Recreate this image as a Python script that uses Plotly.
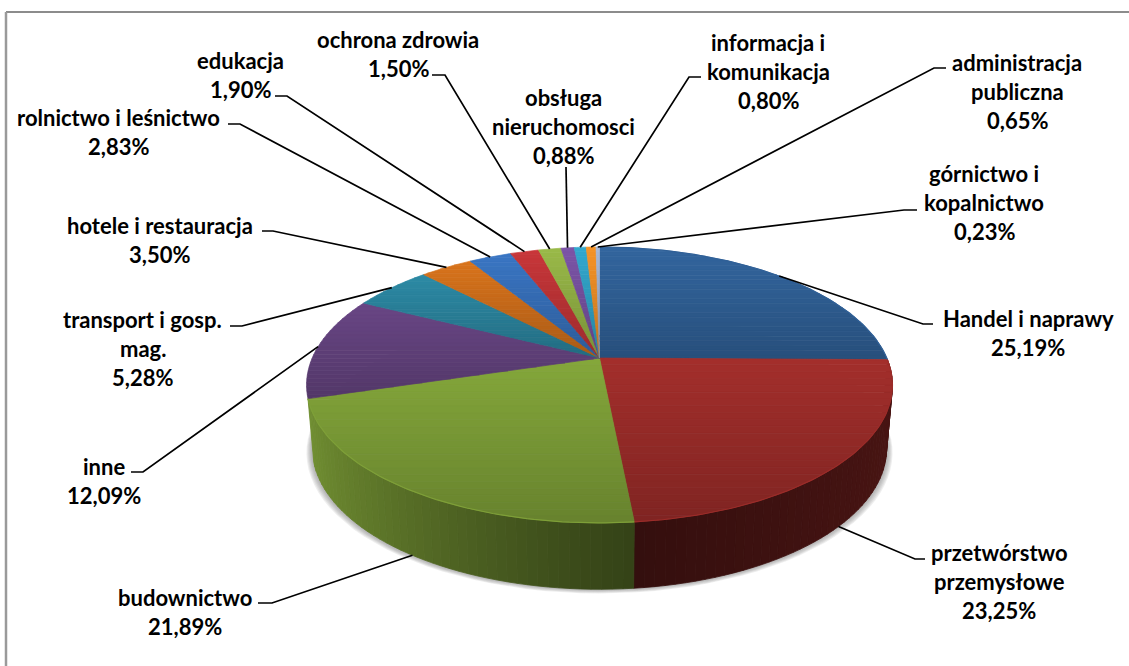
import math
import plotly.graph_objects as go

# 3D pie is not available in plotly, so slices are polygons on pixel-sized axes
values = [25.19, 23.25, 21.89, 12.09, 5.28, 3.50, 2.83, 1.90, 1.50, 0.88, 0.80, 0.65, 0.23]
names = [
    ["Handel i naprawy"],
    ["przetwórstwo", "przemysłowe"],
    ["budownictwo"],
    ["inne"],
    ["transport i gosp.", "mag."],
    ["hotele i restauracja"],
    ["rolnictwo i leśnictwo"],
    ["edukacja"],
    ["ochrona zdrowia"],
    ["obsługa", "nieruchomosci"],
    ["informacja i", "komunikacja"],
    ["administracja", "publiczna"],
    ["górnictwo i", "kopalnictwo"],
]
colors = ["#33669f", "#a42f2c", "#85a83b", "#6a4786", "#2d8ba6", "#d9741c", "#3a76c4",
          "#c9373a", "#9aba49", "#7d55a8", "#33a9cf", "#f79428", "#a8b9d8"]

# label centre x, first line centre y
label_pos = [(1028, 318), (999, 552), (184.5, 597), (104, 466), (142.5, 319), (159.5, 225), (118, 117),
             (240, 60), (398, 39), (563, 97), (768, 42), (1017, 62), (984, 173)]
# leader: elbow point, end of the short horizontal bit
elbows = [((923, 324), (933, 324)), ((915, 559), (925, 559)), ((272, 603), (258, 603)),
          ((143, 472), (131, 472)), ((242, 326), (230, 326)), ((273, 231), (262, 231)),
          ((240, 124), (228, 124)), ((287, 96), (275, 96)), ((445, 75), (432, 75)),
          ((566, 167), (566, 167)), ((689, 77), (701, 77)), ((934, 68), (946, 68)),
          ((904, 210), (917, 210))]

CX, CY = 599.5, 358
R, S, K = 287.3, 132.7, 0.1955
DROP = 63
LINE_H = 29


def top_pt(theta):
    u, v = math.sin(theta), math.cos(theta)
    w = 1 + K * v
    return CX + R * u / w, CY - S * v / w


def bottom_pt(theta):
    u, v = math.sin(theta), math.cos(theta)
    w = 1 + K * v
    return CX + 0.98 * R * u / w, CY - 1.02 * S * v / w + DROP


def shade(hex_color, f):
    r, g, b = [int(hex_color[i:i + 2], 16) for i in (1, 3, 5)]
    return "rgb(%d,%d,%d)" % (min(255, r * f), min(255, g * f), min(255, b * f))


def clip(poly, y, keep_below):
    # cut polygon with a horizontal line
    out = []
    for i in range(len(poly)):
        a, b = poly[i], poly[(i + 1) % len(poly)]
        ina = a[1] >= y if keep_below else a[1] <= y
        inb = b[1] >= y if keep_below else b[1] <= y
        if ina:
            out.append(a)
        if ina != inb:
            t = (y - a[1]) / (b[1] - a[1])
            out.append((a[0] + t * (b[0] - a[0]), y))
    return out


def add_poly(fig, pts, color, width=0.8, opacity=1):
    fig.add_trace(go.Scatter(
        x=[p[0] for p in pts] + [pts[0][0]],
        y=[p[1] for p in pts] + [pts[0][1]],
        mode="lines", fill="toself", fillcolor=color,
        line=dict(color=color, width=width),
        opacity=opacity, hoverinfo="skip", showlegend=False,
    ))


fig = go.Figure()
total = sum(values)
angles = [0]
for v in values:
    angles.append(angles[-1] + v / total * 2 * math.pi)

# soft shadow under the side wall
steps = 120
for d in [6, 5, 4, 3, 2, 1]:
    ring = []
    for i in range(steps):
        t = 2 * math.pi * i / steps
        x, y = bottom_pt(t)
        ring.append((CX + (x - CX) * (1 + d / 290), y + d * 0.7))
    add_poly(fig, ring, "rgb(120,120,120)", width=0, opacity=0.13)

# side walls, only the slices facing us
for k, col in enumerate(colors):
    a0, a1 = angles[k], angles[k + 1]
    if math.cos((a0 + a1) / 2) > 0.05 or a0 > 4.5:
        continue
    n = max(2, int((a1 - a0) / 0.03))
    for i in range(n):
        t0 = a0 + (a1 - a0) * i / n
        t1 = a0 + (a1 - a0) * (i + 1) / n
        u = math.sin((t0 + t1) / 2)
        if u < 0.1:
            f = 0.4 + 0.42 * (0.1 - u) ** 1.2
        else:
            f = 0.32 + 0.14 * (u - 0.1)
        quad = [top_pt(t0), top_pt(t1), bottom_pt(t1), bottom_pt(t0)]
        add_poly(fig, quad, shade(col, f), width=0.8)

# top faces, banded to get the vertical gradient
for k, col in enumerate(colors):
    a0, a1 = angles[k], angles[k + 1]
    n = max(3, int((a1 - a0) / 0.01))
    wedge = [(CX, CY)] + [top_pt(a0 + (a1 - a0) * i / n) for i in range(n + 1)]
    y_min = min(p[1] for p in wedge)
    y_max = max(p[1] for p in wedge)
    bands = 24
    for b in range(bands):
        y0 = y_min + (y_max - y_min) * b / bands
        y1 = y_min + (y_max - y_min) * (b + 1) / bands
        part = clip(clip(wedge, y0, True), y1, False)
        if len(part) > 2:
            add_poly(fig, part, shade(col, 1.0 - 0.22 * (b + 0.5) / bands), width=0.7)

# thin lighter edge on the front of the top face
for k, col in enumerate(colors[:3]):
    a0, a1 = angles[k], angles[k + 1]
    n = int((a1 - a0) / 0.02)
    pts = [top_pt(a0 + (a1 - a0) * i / n) for i in range(n + 1)]
    fig.add_trace(go.Scatter(x=[p[0] for p in pts], y=[p[1] for p in pts], mode="lines",
                             line=dict(color=shade(col, 0.95), width=1.2),
                             hoverinfo="skip", showlegend=False))

# leader lines start at the middle of each slice rim
annotations = []
for k, v in enumerate(values):
    mid = (angles[k] + angles[k + 1]) / 2
    start = bottom_pt(mid) if k in (1, 2) else top_pt(mid)
    (ex, ey), (hx, hy) = elbows[k]
    fig.add_trace(go.Scatter(x=[start[0], ex, hx], y=[start[1], ey, hy], mode="lines",
                             line=dict(color="black", width=1.7),
                             hoverinfo="skip", showlegend=False))
    lines = names[k] + [("%.2f" % v).replace(".", ",") + "%"]
    lx, ly = label_pos[k]
    for j, txt in enumerate(lines):
        annotations.append(dict(x=lx, y=ly + j * LINE_H, xref="x", yref="y", text="<b>%s</b>" % txt,
                                showarrow=False, xanchor="center", yanchor="middle",
                                font=dict(family="Lato", size=22, color="black")))

fig.update_layout(
    width=1129, height=666, autosize=False,
    margin=dict(l=0, r=0, t=0, b=0),
    paper_bgcolor="white", plot_bgcolor="white",
    showlegend=False,
    annotations=annotations,
    xaxis=dict(range=[0, 1129], visible=False, fixedrange=True),
    yaxis=dict(range=[666, 0], visible=False, fixedrange=True),
    shapes=[
        dict(type="line", x0=6, x1=1129, y0=12, y1=12, line=dict(color="#8c8c8c", width=2)),
        dict(type="line", x0=6, x1=6, y0=12, y1=666, line=dict(color="#9a9a9a", width=2.5)),
    ],
)

fig.write_html("out.html", config=dict(displayModeBar=False),
               post_script="document.body.style.margin='0';")
